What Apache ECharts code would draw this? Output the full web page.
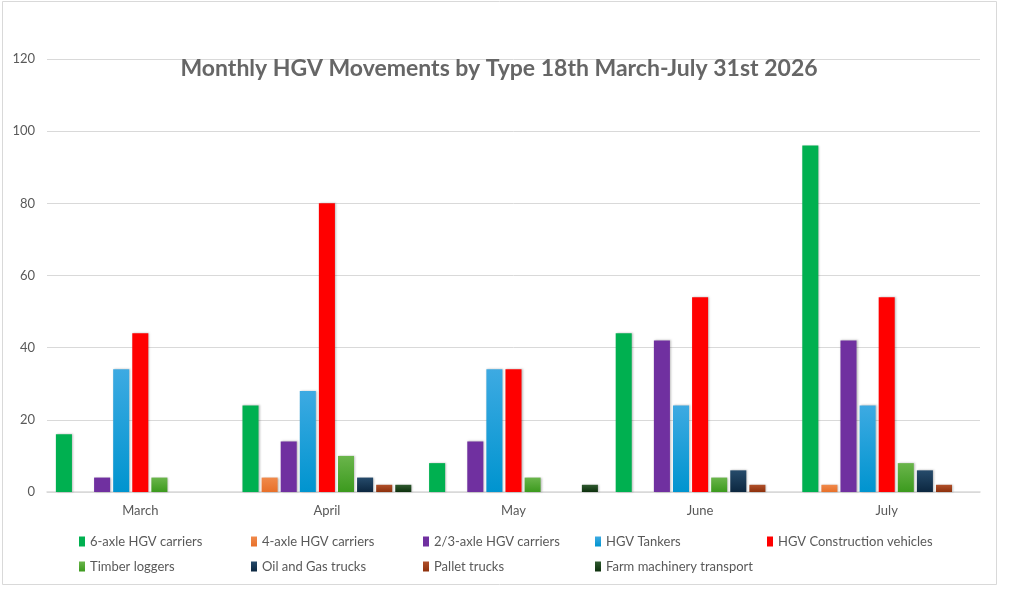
<!DOCTYPE html>
<html>
<head>
<meta charset="utf-8">
<script src="https://cdn.jsdelivr.net/npm/echarts@6/dist/echarts.min.js"></script>
<style>
  html, body { margin: 0; padding: 0; background: #fff; }
  #chart { width: 1024px; height: 594px; }
</style>
</head>
<body>
<div id="chart"></div>
<script>
// datos
const months = ['March', 'April', 'May', 'June', 'July'];
const sixAxle = [16, 24, 8, 44, 96];
const fourAxle = [0, 4, 0, 0, 2];
const twoThreeAxle = [4, 14, 14, 42, 42];
const tankers = [34, 28, 34, 24, 24];
const construction = [44, 80, 34, 54, 54];
const timber = [4, 10, 4, 4, 8];
const oilGas = [0, 4, 0, 6, 6];
const pallet = [0, 2, 0, 2, 2];
const farm = [0, 2, 2, 0, 0];
const yTicks = [0, 20, 40, 60, 80, 100, 120];

document.addEventListener('DOMContentLoaded', function () {
    const myChart = echarts.init(document.getElementById('chart'));
    const font = 'Lato';

    const grad = (top, bottom) => new echarts.graphic.LinearGradient(0, 0, 0, 1, [
        { offset: 0, color: top },
        { offset: 1, color: bottom }
    ]);

    const seriesDefs = [
        { name: '6-axle HGV carriers', data: sixAxle, color: '#00B050', legend: '#00B050' },
        { name: '4-axle HGV carriers', data: fourAxle, color: grad('#F08A4B', '#E8702A'), legend: '#ED7D31' },
        { name: '2/3-axle HGV carriers', data: twoThreeAxle, color: '#7030A0', legend: '#7030A0' },
        { name: 'HGV Tankers', data: tankers, color: grad('#3DAAE2', '#0094CF'), legend: '#1AA0DC' },
        { name: 'HGV Construction vehicles', data: construction, color: '#FF0000', legend: '#FF0000' },
        { name: 'Timber loggers', data: timber, color: grad('#6AB54B', '#3C9A1E'), legend: '#4EA72E' },
        { name: 'Oil and Gas trucks', data: oilGas, color: grad('#264B6B', '#0C2740'), legend: '#163A58' },
        { name: 'Pallet trucks', data: pallet, color: grad('#B0502A', '#8E300C'), legend: '#A0401A' },
        { name: 'Farm machinery transport', data: farm, color: grad('#2F5A2F', '#0D300D'), legend: '#1A401A' }
    ];

    const series = seriesDefs.map(s => ({
        name: s.name,
        type: 'bar',
        data: s.data,
        barWidth: '8.6%',
        barGap: '19%',
        barCategoryGap: '10%',
        color: s.legend,
        itemStyle: {
            color: s.color,
            shadowColor: 'rgba(0,0,0,0.25)',
            shadowBlur: 2,
            shadowOffsetX: 1
        }
    }));

    // una leyenda por elemento, en columnas de ancho fijo
    const legends = seriesDefs.map((s, i) => ({
        orient: 'horizontal',
        icon: 'rect',
        itemWidth: 6,
        itemHeight: 10,
        itemGap: 4,
        left: 74 + (i % 5) * 172,
        top: i < 5 ? 530 : 555,
        data: [s.name],
        textStyle: { color: '#595959', fontSize: 13, fontFamily: font }
    }));

    const option = {
        backgroundColor: '#fff',
        animation: false,
        title: {
            text: 'Monthly HGV Movements by Type 18th March-July 31st 2026',
            left: 494,
            textAlign: 'center',
            top: 52,
            textStyle: { color: '#666666', fontSize: 23, fontWeight: 'bold', fontFamily: font }
        },
        legend: legends,
        grid: { left: 47, right: 44, top: 59, bottom: 102, containLabel: false },
        xAxis: {
            type: 'category',
            data: months,
            axisTick: { show: false },
            axisLine: { lineStyle: { color: '#D9D9D9', width: 1.5 } },
            axisLabel: { color: '#595959', fontSize: 13, fontFamily: font, margin: 12 }
        },
        yAxis: {
            type: 'value',
            min: yTicks[0],
            max: yTicks[yTicks.length - 1],
            interval: 20,
            axisLine: { show: false },
            axisTick: { show: false },
            splitLine: { lineStyle: { color: '#D9D9D9' } },
            axisLabel: { color: '#595959', fontSize: 13, fontFamily: font, margin: 12 }
        },
        graphic: [{
            type: 'rect',
            shape: { x: 2.5, y: 1.5, width: 994, height: 583 },
            style: { fill: 'none', stroke: '#D9D9D9', lineWidth: 1 },
            silent: true
        }],
        series: series
    };

    myChart.setOption(option);
});
</script>
</body>
</html>
